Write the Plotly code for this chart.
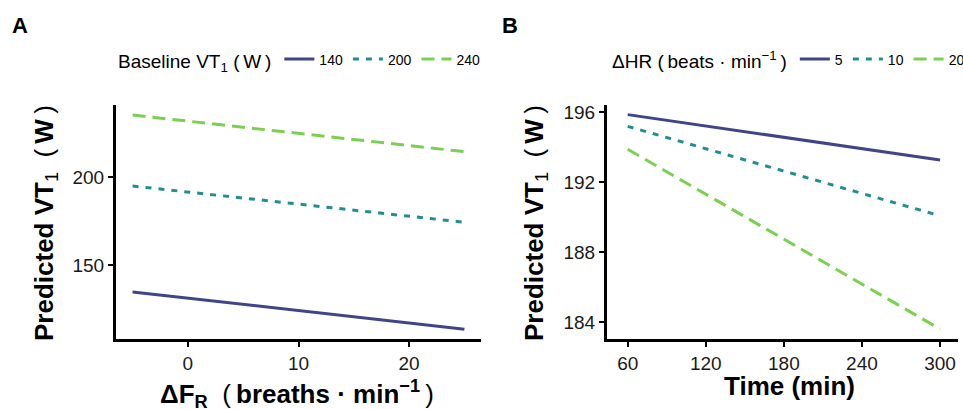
import plotly.graph_objects as go

# ---------------- data ----------------
fr_x = [-5, 25]                       # ΔF_R (breaths·min^-1)
baseline_labels = ["140", "200", "240"]
vt_140 = [134.7, 113.6]
vt_200 = [194.9, 174.3]
vt_240 = [235.2, 214.4]

time_x = [60, 300]                    # Time (min)
hr_labels = ["5", "10", "20"]
vt_hr5 = [195.85, 193.26]
vt_hr10 = [195.18, 190.07]
vt_hr20 = [193.87, 183.6]

a_xticks = [0, 10, 20]
a_yticks = [150, 200]
b_xticks = [60, 120, 180, 240, 300]
b_yticks = [184, 188, 192, 196]

# ---------------- styling ----------------
W, H = 963, 409
FONT = "Liberation Sans, Arial, Helvetica, sans-serif"
colors = ["#414487", "#21908C", "#7AD151"]
dashes = ["solid", "6px,7px", "13px,7px"]
TS = "\u2009"  # thin space

def px_x(p):
    return p / W

def px_y(p):
    return (H - p) / H

fig = go.Figure()

for name, yv, c, d in zip(baseline_labels, [vt_140, vt_200, vt_240], colors, dashes):
    fig.add_trace(go.Scatter(x=fr_x, y=yv, mode="lines", name=name,
                             line=dict(color=c, width=3, dash=d),
                             xaxis="x", yaxis="y", legend="legend"))

for name, yv, c, d in zip(hr_labels, [vt_hr5, vt_hr10, vt_hr20], colors, dashes):
    fig.add_trace(go.Scatter(x=time_x, y=yv, mode="lines", name=name,
                             line=dict(color=c, width=3, dash=d),
                             xaxis="x2", yaxis="y2", legend="legend2"))

ydom = [px_y(339), px_y(105)]
axis_common = dict(showline=True, linecolor="black", linewidth=3, ticks="outside",
                   ticklen=5, tickwidth=2, tickcolor="black", showgrid=False,
                   zeroline=False, tickfont=dict(family=FONT, size=19, color="#1a1a1a"))

fig.update_layout(
    width=W, height=H,
    margin=dict(l=0, r=0, t=0, b=0, autoexpand=False),
    plot_bgcolor="white", paper_bgcolor="white",
    font=dict(family=FONT, color="black"),
    xaxis=dict(domain=[px_x(116), px_x(481)], range=[-6.5, 26.5], tickvals=a_xticks,
               anchor="y", **axis_common),
    yaxis=dict(domain=ydom, range=[108, 240.9], tickvals=a_yticks, anchor="x",
               **axis_common),
    xaxis2=dict(domain=[px_x(607), px_x(958)], range=[44.1, 313.8], tickvals=b_xticks,
                anchor="y2", **axis_common),
    yaxis2=dict(domain=ydom, range=[183.03, 196.4], tickvals=b_yticks, anchor="x2",
                **axis_common),
    legend=dict(orientation="h", x=px_x(116), y=px_y(61), xanchor="left", yanchor="middle",
                title=dict(text=f"Baseline VT<sub>1</sub> ({TS}W{TS})", side="left",
                           font=dict(family=FONT, size=19, color="black")),
                font=dict(family=FONT, size=14, color="black"),
                bgcolor="rgba(0,0,0,0)", itemwidth=30, tracegroupgap=0),
    legend2=dict(orientation="h", x=px_x(610), y=px_y(61), xanchor="left", yanchor="middle",
                 title=dict(text=f"ΔHR ({TS}beats · min<sup>−1</sup>{TS})", side="left",
                            font=dict(family=FONT, size=19, color="black")),
                 font=dict(family=FONT, size=14, color="black"),
                 bgcolor="rgba(0,0,0,0)", itemwidth=30, tracegroupgap=0),
    showlegend=True,
)

ytitle = f"<b>Predicted VT</b><sub>1</sub>  ({TS}<b>W</b>{TS})"
annos = [
    dict(text="<b>A</b>", x=px_x(10), y=px_y(25), xanchor="left", yanchor="middle",
         font=dict(family=FONT, size=22, color="black")),
    dict(text="<b>B</b>", x=px_x(500), y=px_y(25), xanchor="left", yanchor="middle",
         font=dict(family=FONT, size=22, color="black")),
    dict(text=ytitle, x=px_x(45), y=px_y(223), textangle=-90, xanchor="center",
         yanchor="middle", font=dict(family=FONT, size=26, color="black")),
    dict(text=ytitle, x=px_x(535), y=px_y(223), textangle=-90, xanchor="center",
         yanchor="middle", font=dict(family=FONT, size=26, color="black")),
    dict(text=f"<b>ΔF<sub>R</sub></b>  ({TS}<b>breaths · min<sup>−1</sup></b>{TS})",
         x=px_x(297), y=px_y(394), xanchor="center", yanchor="middle",
         font=dict(family=FONT, size=26, color="black")),
    dict(text="<b>Time (min)</b>", x=px_x(789), y=px_y(386), xanchor="center",
         yanchor="middle", font=dict(family=FONT, size=26, color="black")),
]
for a in annos:
    a.update(xref="paper", yref="paper", showarrow=False)
fig.update_layout(annotations=annos)

fig.write_html("out.html", config={"displayModeBar": False},
               post_script="document.body.style.margin='0px';document.body.style.overflow='hidden';")
